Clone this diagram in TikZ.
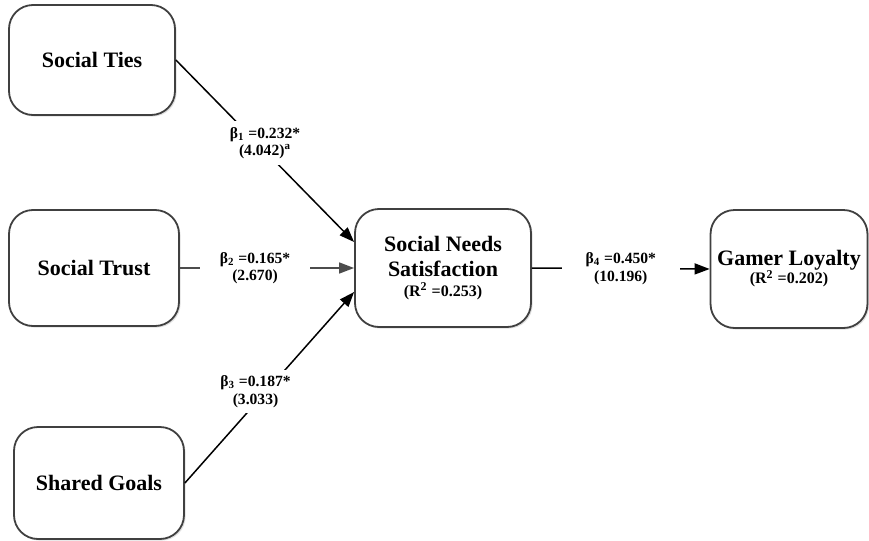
\documentclass[tikz,border=0pt]{standalone}
\usepackage{fontspec}
\setmainfont{Liberation Serif}
\usetikzlibrary{arrows.meta,shadows}
\newcommand{\rsqfont}{\fontsize{8}{9}\selectfont}
\tikzset{
  factor/.style={draw=black!75, line width=0.9pt, rounded corners=12pt, fill=white,
    drop shadow={opacity=0.25, shadow xshift=0.8pt, shadow yshift=-0.8pt},
    minimum width=85pt, minimum height=57pt, align=center,
    font=\fontsize{11}{12.5}\selectfont\bfseries},
  link/.style={line width=0.75pt, -{Triangle[length=7.5pt,width=5.5pt]}},
  coef/.style={fill=white, align=center, inner xsep=10pt, inner ysep=3pt,
    font=\fontsize{7.8}{8.8}\selectfont\bfseries}
}
\begin{document}
\begin{tikzpicture}[x=0.5pt,y=-0.5pt]
  \useasboundingbox (0,0) rectangle (869,541);
  % constructs
  \node (ties) at (92,60) [factor, minimum width=83pt, minimum height=55pt] {Social Ties};
  \node (trust) at (94,268) [factor, minimum height=58pt] {Social Trust};
  \node (goals) at (99,483) [factor, minimum height=56pt] {Shared Goals};
  \node (sns) at (443,268) [factor, minimum width=88pt, minimum height=59pt]
    {Social Needs\\Satisfaction\\[-2.5pt]{\rsqfont(R\textsuperscript{2} =0.253)}};
  \node (loyal) at (789,269) [factor, minimum width=77pt, minimum height=59pt]
    {Gamer Loyalty\\[-3.5pt]{\rsqfont(R\textsuperscript{2} =0.202)}};
  % paths
  \draw[link] (ties.east) -- ([yshift=13pt]sns.west)
    node[coef, midway, yshift=4pt] {β\textsubscript{1} =0.232*\\(4.042)\textsuperscript{a}};
  \draw[link, draw=black!70, fill=black!70] (trust.east) -- (sns.west)
    node[coef, midway, xshift=-6pt] {β\textsubscript{2} =0.165*\\(2.670)};
  \draw[link] (goals.east) -- ([yshift=-12pt]sns.west)
    node[coef, midway, xshift=-7pt, yshift=-2pt] {β\textsubscript{3} =0.187*\\(3.033)};
  \draw[link] (sns.east) -- (loyal.west)
    node[coef, midway, inner xsep=12pt] {β\textsubscript{4} =0.450*\\(10.196)};
\end{tikzpicture}
\end{document}
